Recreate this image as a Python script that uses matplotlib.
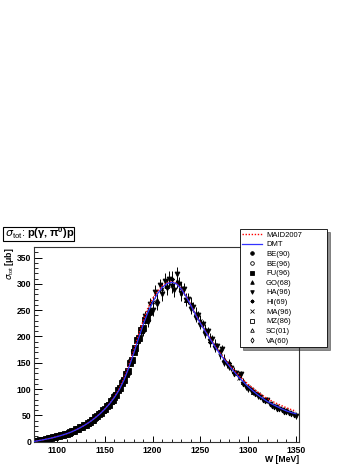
import matplotlib
matplotlib.use('Agg')
import matplotlib.pyplot as plt
from matplotlib.lines import Line2D
from matplotlib.patches import Rectangle
from matplotlib.ticker import MultipleLocator

plt.rcParams['font.family'] = ['Liberation Sans', 'DejaVu Sans']
plt.rcParams['mathtext.fontset'] = 'custom'
plt.rcParams['mathtext.rm'] = 'Liberation Sans'
plt.rcParams['mathtext.bf'] = 'Liberation Sans:bold'

# model curves (W in MeV, sigma in mub)
model_W = [1075, 1080, 1085, 1090, 1095, 1100, 1105, 1110, 1115, 1120, 1125, 1130, 1135,
           1140, 1145, 1150, 1155, 1160, 1165, 1170, 1175, 1180, 1185, 1190, 1195, 1200,
           1205, 1210, 1215, 1220, 1225, 1230, 1235, 1240, 1245, 1250, 1255, 1260, 1265,
           1270, 1275, 1280, 1285, 1290, 1295, 1300, 1305, 1310, 1315, 1320, 1325, 1330,
           1335, 1340, 1345, 1350]
maid_sigma = [0.2, 1.9, 3.6, 5.4, 7.4, 9.8, 12.4, 15.3, 18.7, 22.8, 27.5, 32.9, 38.9,
              45.8, 53.6, 62.5, 73.0, 85.5, 101.0, 120.5, 145.0, 173.0, 202.0, 230.0, 254.0, 272.0,
              286.0, 296.0, 302.0, 304.0, 301.0, 291.0, 277.0, 260.0, 242.0, 226.0, 211.0, 197.0, 183.0,
              170.0, 158.0, 147.0, 136.5, 126.5, 117.5, 109.0, 101.5, 94.5, 88.0, 82.0, 77.0, 72.5,
              68.5, 64.5, 61.0, 58.0]
dmt_sigma = [0.2, 1.8, 3.5, 5.3, 7.3, 9.7, 12.3, 15.2, 18.6, 22.7, 27.4, 32.7, 38.6,
             45.5, 53.2, 62.0, 72.2, 84.0, 98.5, 117.0, 140.5, 167.0, 195.0, 222.0, 246.0, 265.0,
             281.0, 293.0, 300.5, 303.0, 300.0, 290.0, 276.0, 259.0, 241.0, 225.0, 210.0, 195.5, 181.5,
             168.0, 156.0, 144.5, 133.5, 123.0, 113.5, 104.5, 96.5, 89.0, 82.5, 76.5, 71.5, 67.0,
             62.5, 58.5, 55.5, 53.0]

# data sets
fu96_W = [1076, 1078, 1080, 1082, 1084, 1086, 1088, 1090, 1092, 1094, 1096, 1098, 1100,
          1102, 1104, 1106, 1108, 1110, 1112, 1114, 1116, 1118, 1120, 1122, 1124, 1126,
          1128, 1130, 1132, 1134, 1136, 1138, 1140, 1142, 1144, 1146, 1148, 1150, 1152,
          1154, 1156, 1158, 1160, 1162, 1164, 1166, 1168, 1170, 1172, 1174, 1176, 1178,
          1180, 1182, 1184, 1186, 1188, 1190, 1192, 1194]
fu96_sigma = [0.6, 1.0, 2.0, 2.3, 3.4, 3.7, 4.9, 5.1, 6.4, 6.8, 8.2, 8.5, 10.1,
              10.4, 12.3, 12.6, 14.6, 14.8, 17.1, 17.5, 20.1, 20.5, 23.6, 24.0, 27.2, 27.9,
              31.4, 32.1, 36.0, 36.8, 41.1, 42.0, 46.8, 47.9, 53.0, 54.2, 60.0, 61.5, 67.8,
              69.6, 76.5, 78.8, 85.6, 89.0, 98.1, 102.5, 112.0, 116.8, 128.5, 135.0, 149.0, 155.5,
              171.0, 177.5, 193.0, 197.5, 213.0, 216.0, 231.0, 235.0]

be90_W = [1077, 1081, 1085, 1089, 1093, 1097, 1101, 1105, 1109, 1113, 1117, 1121, 1125,
          1129, 1133, 1137, 1141, 1145, 1149, 1153, 1157, 1161, 1165, 1169, 1173, 1177,
          1181, 1185, 1189, 1193, 1197]
be90_sigma = [0.9, 2.1, 3.6, 4.9, 6.7, 8.3, 10.0, 12.5, 14.3, 17.4, 19.8, 23.9, 27.0,
              31.9, 35.8, 41.7, 46.5, 53.9, 59.6, 69.5, 76.9, 88.2, 99.5, 115.2, 130.5, 153.0,
              172.5, 196.0, 212.0, 234.5, 247.0]

ha96_W = [1185, 1187.5, 1190, 1192.5, 1195, 1197.5, 1200, 1202.5, 1205, 1207.5, 1210, 1212.5,
          1215, 1217.5, 1220, 1222.5, 1225, 1227.5, 1230, 1232.5, 1235, 1237.5, 1240, 1242.5,
          1245, 1247.5, 1250, 1252.5, 1255, 1257.5, 1260, 1262.5, 1265, 1267.5, 1270, 1272.5,
          1275, 1277.5, 1280, 1282.5, 1285, 1287.5, 1290, 1292.5, 1295, 1297.5, 1300, 1302.5,
          1305, 1307.5, 1310, 1312.5, 1315, 1317.5, 1320, 1322.5, 1325, 1327.5, 1330, 1332.5,
          1335, 1337.5, 1340, 1342.5, 1345, 1347.5, 1350]
ha96_sigma = [190, 212, 210, 238, 228, 262, 250, 285, 262, 297, 280, 306,
              292, 310, 296, 288, 318, 300, 282, 290, 270, 272, 252, 256,
              236, 240, 222, 224, 205, 210, 192, 196, 178, 181, 171, 177,
              150, 147, 142, 140, 129, 131, 125, 128, 110, 104, 100, 98,
              94, 91, 86, 85, 80, 78, 80, 72, 68, 66, 63, 62,
              60, 57, 56, 55, 52, 50, 48]
ha96_err = [8, 9, 9, 10, 10, 11, 11, 12, 12, 13, 13, 14,
            13, 14, 13, 13, 14, 13, 12, 12, 11, 11, 10, 10,
            9, 9, 8, 8, 8, 8, 7, 7, 7, 7, 6, 7,
            6, 6, 6, 6, 5, 5, 5, 6, 5, 5, 5, 5,
            4, 4, 4, 4, 4, 4, 4, 4, 4, 4, 4, 4,
            4, 4, 4, 4, 4, 4, 4]

go68_W = [1195, 1205, 1215, 1225, 1235, 1245, 1255, 1265, 1275, 1285, 1295, 1305]
go68_sigma = [245, 270, 296, 306, 270, 244, 214, 186, 158, 135, 114, 95]

ma96_W = [1200, 1210, 1220, 1230, 1240, 1250, 1260, 1270, 1280, 1290, 1300, 1310, 1320, 1330, 1340]
ma96_sigma = [266, 290, 298, 292, 260, 230, 198, 170, 146, 122, 104, 90, 78, 68, 60]

be96_W = [1078, 1082, 1086, 1090]
be96_sigma = [1.3, 2.7, 4.1, 5.6]
hi69_W = [1220, 1240, 1260, 1280]
hi69_sigma = [310, 262, 190, 150]
mz86_W = [1100, 1120, 1140]
mz86_sigma = [9, 23, 44]
sc01_W = [1079, 1084, 1089, 1094]
sc01_sigma = [1.4, 3.0, 5.0, 7.2]
va60_W = [1230, 1250, 1270]
va60_sigma = [280, 230, 165]

fig = plt.figure(figsize=(3.6, 4.66), dpi=100)
ax = fig.add_axes([34 / 360, 24.3 / 466, 265 / 360, 194.7 / 466])


def draw_set(W, s, err, marker, label, ms=3, mfc='black'):
    ax.errorbar(W, s, yerr=err, xerr=0.8, ls='none', marker=marker, color='black', mfc=mfc,
                mec='black', ms=ms, elinewidth=0.7, capsize=0, mew=0.6)
    # small marker-only entry for the legend
    return Line2D([], [], ls='none', marker=marker, color='black', mfc=mfc, mec='black',
                  ms=2.6, mew=0.6, label=label)


def rel_err(s, f, a):
    return [v * f + a for v in s]


h_maid, = ax.plot(model_W, maid_sigma, color='red', ls=(0, (1, 1.2)), lw=1.0, label='MAID2007', zorder=4)
h_dmt, = ax.plot(model_W, dmt_sigma, color='#3333ff', ls='-', lw=0.9, label='DMT', zorder=4)

h_be90 = draw_set(be90_W, be90_sigma, rel_err(be90_sigma, 0.03, 0.4), 'o', 'BE(90)', ms=4.6)
h_be96 = draw_set(be96_W, be96_sigma, rel_err(be96_sigma, 0.05, 0.3), 'o', 'BE(96)', mfc='none')
h_fu96 = draw_set(fu96_W, fu96_sigma, rel_err(fu96_sigma, 0.03, 0.5), 's', 'FU(96)', ms=4.4)
h_go68 = draw_set(go68_W, go68_sigma, rel_err(go68_sigma, 0.04, 2), '^', 'GO(68)')
h_ha96 = draw_set(ha96_W, ha96_sigma, ha96_err, 'v', 'HA(96)', ms=3.5)
h_hi69 = draw_set(hi69_W, hi69_sigma, rel_err(hi69_sigma, 0.04, 2), (8, 1, 0), 'HI(69)')
h_ma96 = draw_set(ma96_W, ma96_sigma, rel_err(ma96_sigma, 0.03, 2), 'x', 'MA(96)')
h_mz86 = draw_set(mz86_W, mz86_sigma, rel_err(mz86_sigma, 0.05, 1), 's', 'MZ(86)', mfc='none')
h_sc01 = draw_set(sc01_W, sc01_sigma, rel_err(sc01_sigma, 0.05, 0.3), '^', 'SC(01)', mfc='none')
h_va60 = draw_set(va60_W, va60_sigma, rel_err(va60_sigma, 0.04, 2), 'd', 'VA(60)', ms=2.2, mfc='none')

ax.set_xlim(1075.8, 1353.2)
ax.set_ylim(0, 370)
ax.xaxis.set_major_locator(MultipleLocator(50))
ax.xaxis.set_minor_locator(MultipleLocator(10))
ax.yaxis.set_major_locator(MultipleLocator(50))
ax.yaxis.set_minor_locator(MultipleLocator(10))
ax.tick_params(axis='x', which='major', direction='in', length=4, width=0.7, pad=3, labelsize=6.2)
ax.tick_params(axis='x', which='minor', direction='in', length=2, width=0.6)
ax.tick_params(axis='y', which='major', direction='in', length=6, width=0.7, pad=2, labelsize=6.2)
ax.tick_params(axis='y', which='minor', direction='in', length=3, width=0.6)
for lab in ax.get_xticklabels() + ax.get_yticklabels():
    lab.set_fontweight('bold')
for sp in ax.spines.values():
    sp.set_linewidth(0.8)
    sp.set_color('#333333')

fig.text(299 / 360, (466 - 459.5) / 466, 'W [MeV]', ha='right', va='center',
         fontsize=6.2, fontweight='bold')
fig.text(10 / 360, (466 - 247) / 466, r'$\sigma_{\rm tot}$ $\mathbf{[\mu b]}$', rotation=90,
         ha='center', va='top', fontsize=6.2)

# title box with shadow
fig.patches.append(Rectangle((4 / 360, (466 - 242) / 466), 71 / 360, 14 / 466,
                             transform=fig.transFigure, fc='#222222', ec='none'))
fig.patches.append(Rectangle((2.5 / 360, (466 - 240.5) / 466), 71 / 360, 14 / 466,
                             transform=fig.transFigure, fc='white', ec='black', lw=0.8))
fig.text(5 / 360, (466 - 233.5) / 466, r'$\sigma_{\rm tot}$: $\mathbf{p(\gamma,\pi^0)p}$',
         ha='left', va='center', fontsize=8)

handles = [h_maid, h_dmt, h_be90, h_be96, h_fu96, h_go68, h_ha96, h_hi69, h_ma96,
           h_mz86, h_sc01, h_va60]
labels = [h.get_label() for h in handles]
leg = fig.legend(handles, labels, loc='upper left',
                 bbox_to_anchor=(240 / 360, (466 - 347) / 466, 87 / 360, 118 / 466),
                 mode='expand', fontsize=5.5,
                 frameon=True, fancybox=False, shadow={'color': '#222222'}, framealpha=1,
                 edgecolor='black', facecolor='white', labelspacing=0.3, handlelength=2.6,
                 handletextpad=0.5, borderpad=0.3, borderaxespad=0)
leg.get_frame().set_linewidth(0.6)
leg.set_zorder(10)

fig.savefig('out.png', dpi=100)
